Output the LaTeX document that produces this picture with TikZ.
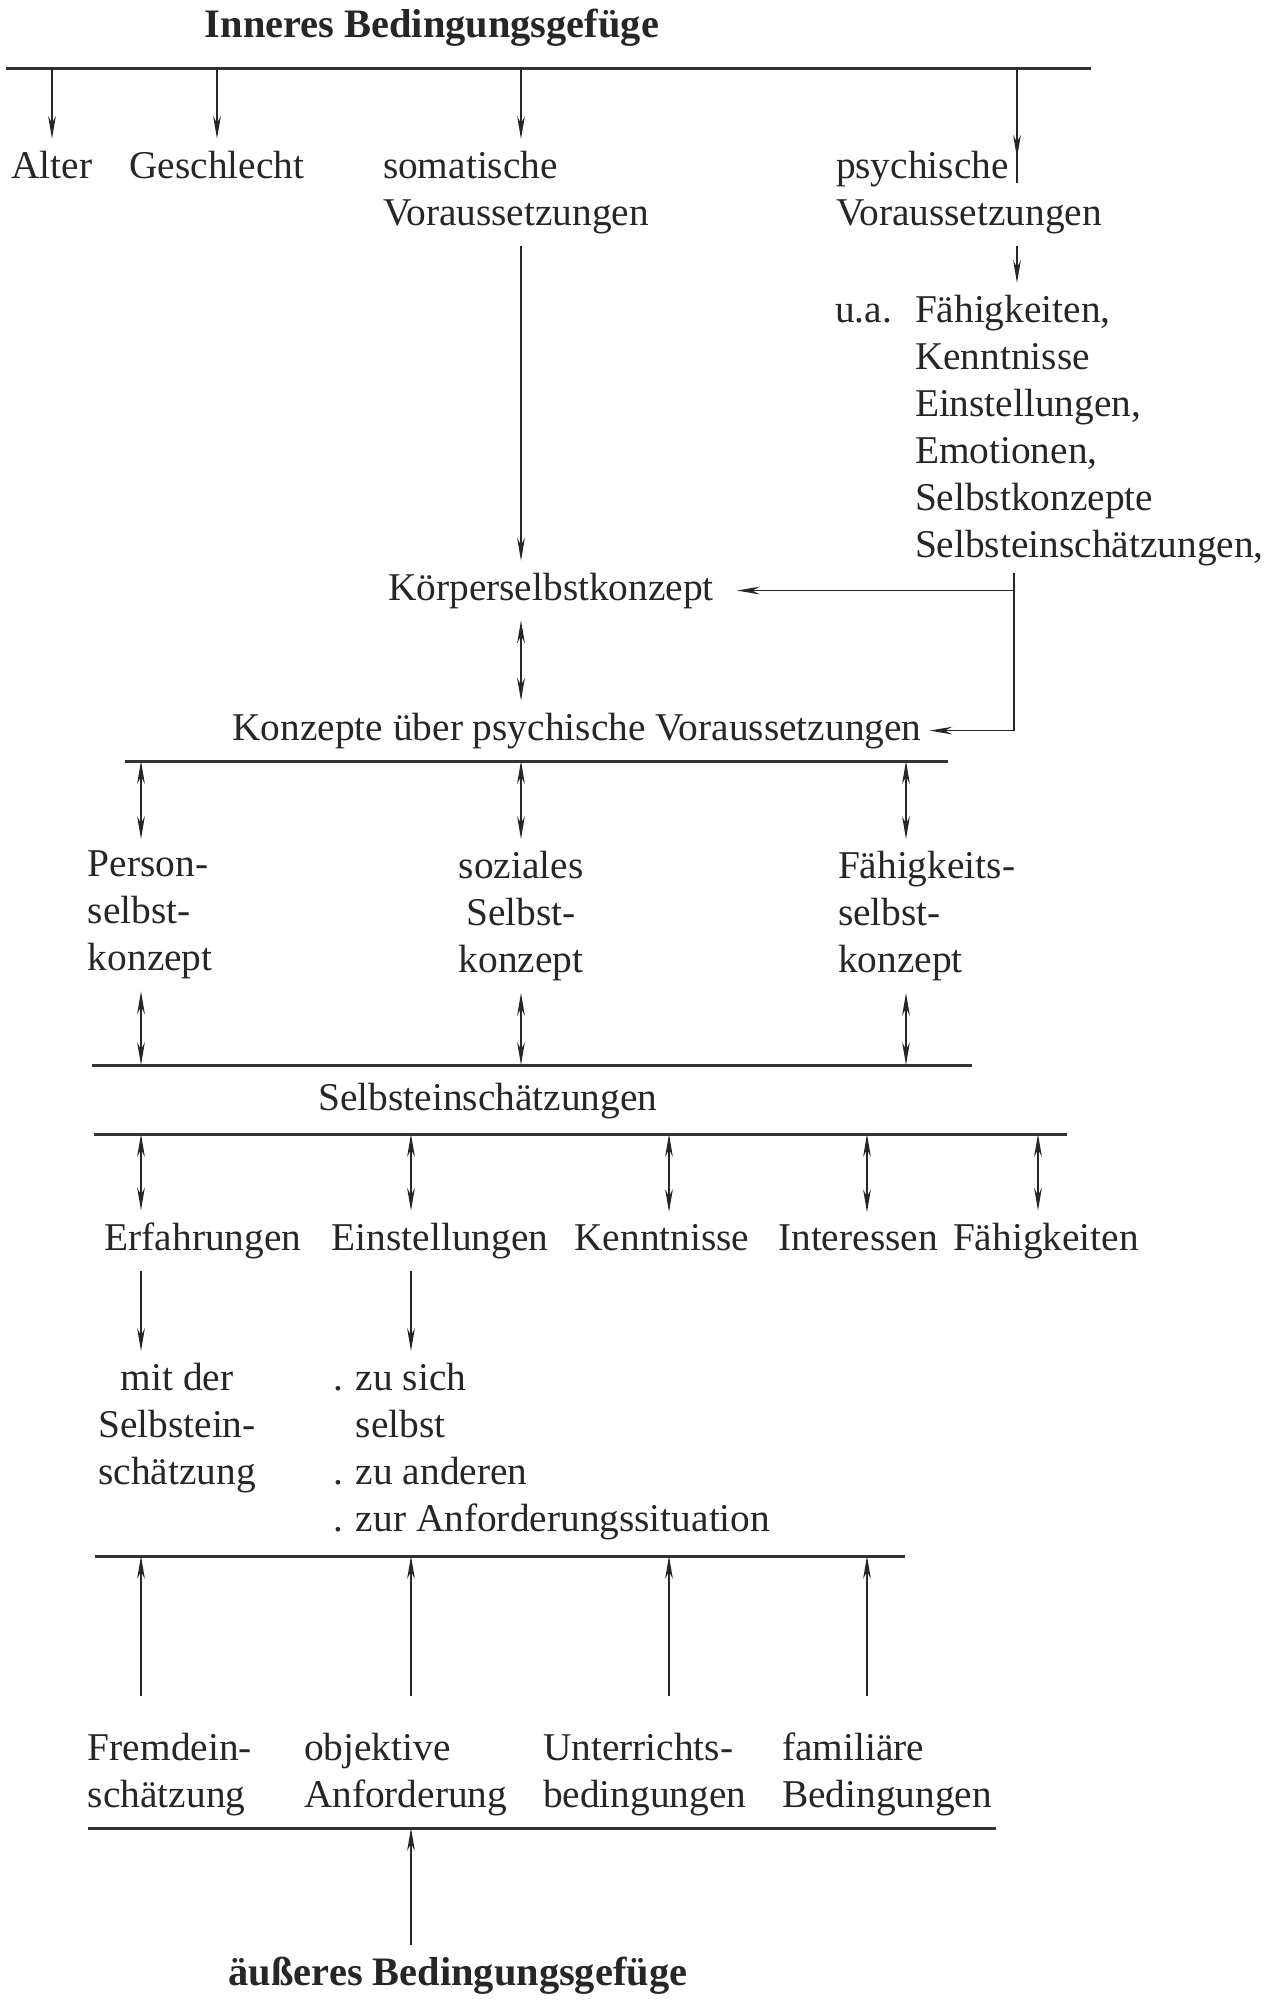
\documentclass[tikz,border=0pt]{standalone}
\usepackage{fontspec}
\setmainfont{Liberation Serif}
\usetikzlibrary{arrows.meta}
\usetikzlibrary{decorations.markings}
\tikzset{>={Stealth[length=6.5pt,width=2.2pt]}}
\tikzset{txt/.style={font=\fontsize{11.2}{13.4}\selectfont, inner sep=0pt, outer xsep=0pt, outer ysep=1.2mm, text=black!85}}
\tikzset{head/.style={txt, font=\fontsize{11.5}{13.8}\selectfont\bfseries}}
\tikzset{bar/.style={line width=0.85pt, draw=black!80}}
\tikzset{markarr/.style={decoration={
      markings,
      mark=at position #1 with {\arrow{>}}},postaction={decorate}}}

\begin{document}
\begin{tikzpicture}[x=0.1mm, y=-0.1mm, line width=0.5pt, draw=black!85]
\useasboundingbox (0,0) rectangle (1277,2000);

\coordinate (colE) at (141,0);
\coordinate (colN) at (411,0);
\coordinate (colS) at (521,0);
\coordinate (colK) at (669,0);
\coordinate (colI) at (867,0);
\coordinate (colF) at (906,0);
\coordinate (colH) at (1038,0);
\coordinate (colP) at (1017,0);

\coordinate (b1w) at (6,68);    \coordinate (b1e) at (1091,68);
\coordinate (b2w) at (125,761); \coordinate (b2e) at (948,761);
\coordinate (b3w) at (92,1065); \coordinate (b3e) at (972,1065);
\coordinate (b4w) at (94,1134); \coordinate (b4e) at (1067,1134);
\coordinate (b5w) at (95,1556); \coordinate (b5e) at (905,1556);
\coordinate (b6w) at (88,1828); \coordinate (b6e) at (996,1828);

\node[head, anchor=base] (inner) at (432,37) {Inneres Bedingungsgefüge};

\node[txt, anchor=base] (alter) at (52,178) {Alter};
\node[txt, anchor=base] (geschl) at (217,178) {Geschlecht};
\node[txt, anchor=north west, align=left] (soma) at (383,139) {somatische\\Voraussetzungen};
\node[txt, anchor=north west, align=left] (psych) at (836,139) {psychische\\Voraussetzungen};
\coordinate (psyEnd) at (1017,183);

\node[txt, anchor=base west] (ua) at (835,322) {u.a.};
\node[txt, anchor=north west, align=left] (psyl) at (915,283)
  {Fähigkeiten,\\Kenntnisse\\Einstellungen,\\Emotionen,\\Selbstkonzepte\\Selbsteinschätzungen,};
\coordinate (bend) at (1014,573);

\node[txt, anchor=base] (koerper) at (551,600) {Körperselbstkonzept};
\node[txt, anchor=base] (konz) at (577,740) {Konzepte über psychische Voraussetzungen};

\node[txt, anchor=north west, align=left] (person) at (88,839) {Person-\\selbst-\\konzept};
\node[txt, anchor=north, align=center] (sozial) at (521,839) {soziales\\Selbst-\\konzept};
\node[txt, anchor=north west, align=left] (faehig) at (838,839) {Fähigkeits-\\selbst-\\konzept};

\node[txt, anchor=base] (selbst) at (488,1110) {Selbsteinschätzungen};

\node[txt, anchor=base] (erf) at (203,1250) {Erfahrungen};
\node[txt, anchor=base] (einst) at (440,1250) {Einstellungen};
\node[txt, anchor=base] (kennt) at (662,1250) {Kenntnisse};
\node[txt, anchor=base] (inter) at (858,1250) {Interessen};
\node[txt, anchor=base] (faeh) at (1046,1250) {Fähigkeiten};

\node[txt, anchor=north, align=center] (erfsub) at (177,1351) {mit der\\Selbstein-\\schätzung};
\node[txt, anchor=north west, align=left] (einsub) at (333,1351)
  {. zu sich\\\phantom{. }selbst\\. zu anderen\\. zur Anforderungssituation};

\node[txt, anchor=north west, align=left] (frem) at (88,1721) {Fremdein-\\schätzung};
\node[txt, anchor=north west, align=left] (objek) at (304,1721) {objektive\\Anforderung};
\node[txt, anchor=north west, align=left] (unter) at (543,1721) {Unterrichts-\\bedingungen};
\node[txt, anchor=north west, align=left] (famil) at (782,1721) {familiäre\\Bedingungen};

\node[head, anchor=base] (aeuss) at (458,1985) {äußeres Bedingungsgefüge};

\draw[bar] (b1w) -- (b1e);
\draw[bar] (b2w) -- (b2e);
\draw[bar] (b3w) -- (b3e);
\draw[bar] (b4w) -- (b4e);
\draw[bar] (b5w) -- (b5e);
\draw[bar] (b6w) -- (b6e);

\draw[->] (b1w -| alter) -- (alter);
\draw[->] (b1w -| geschl) -- (geschl);
\draw[->] (b1w -| colS) -- (colS |- soma.north);
\draw[markarr=0.78] (b1w -| psyEnd) -- (psyEnd);
\draw[->] (colP |- psych.south) -- (colP |- psyl.north);

\draw[->] (colS |- soma.south) -- (colS |- koerper.north);
\draw[<->] (colS |- koerper.south) -- (colS |- konz.north);
\draw[->, shorten >=2.3mm] (bend |- koerper) -- (koerper.east);
\draw[->, shorten >=0.8mm] (bend) |- (konz.east);

\foreach \c/\n in {colE/person, colS/sozial, colF/faehig} {
  \draw[<->] (b2w -| \c) -- (\c |- \n.north);
  \draw[<->] (\c |- \n.south) -- (b3w -| \c);
}

\foreach \c/\n in {colE/erf, colN/einst, colK/kennt, colI/inter, colH/faeh}
  \draw[<->] (b4w -| \c) -- (\c |- \n.north);

\draw[->] (colE |- erf.south) -- (colE |- erfsub.north);
\draw[->] (colN |- einst.south) -- (colN |- einsub.north);

\foreach \c/\n in {colE/frem, colN/objek, colK/unter, colI/famil}
  \draw[->, shorten <=2.5mm] (\c |- \n.north) -- (b5w -| \c);

\draw[->] (colN |- aeuss.north) -- (b6w -| colN);
\end{tikzpicture}
\end{document}
